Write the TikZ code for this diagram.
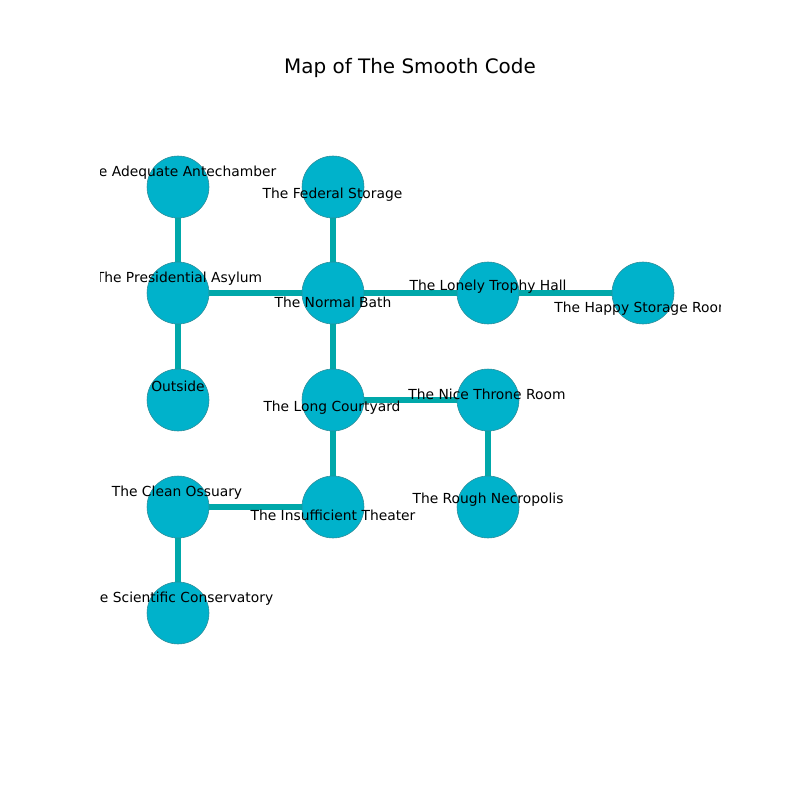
\documentclass[tikz,border=0pt]{standalone}
\usepackage{fontspec}
\setmainfont{DejaVu Sans}
\usetikzlibrary{backgrounds}
\definecolor{nodefill}{HTML}{00B2CB}
\definecolor{nodeline}{HTML}{2F8C98}
\definecolor{edgecol}{HTML}{00A8AA}
\newlength{\pxu}
\setlength{\pxu}{0.01in}
\tikzset{
  room/.style={circle, fill=nodefill, draw=nodeline, line width=0.4pt, minimum size=62\pxu, inner sep=0pt},
  passage/.style={draw=edgecol, line width=3.9pt},
  lbl/.style={font=\fontsize{10}{12}\selectfont, text=black, anchor=center, inner sep=0pt},
}
\begin{document}
\begin{tikzpicture}[x=0.01in, y=-0.01in]
\useasboundingbox (0,0) rectangle (800,800);
\node[lbl, font=\fontsize{14.4}{17}\selectfont] (title) at (410,68.5) {Map of The Smooth Code};
% nodes
\node[room] (ante) at (178,187) {};
\node[room] (fed) at (333,187) {};
\node[room] (pres) at (178,293) {};
\node[room] (bath) at (333,293) {};
\node[room] (trophy) at (488,293) {};
\node[room] (happy) at (643,293) {};
\node[room] (out) at (178,400) {};
\node[room] (court) at (333,400) {};
\node[room] (throne) at (488,400) {};
\node[room] (oss) at (178,507) {};
\node[room] (theat) at (333,507) {};
\node[room] (necro) at (488,507) {};
\node[room] (cons) at (178,613) {};
% edges behind nodes
\begin{pgfonlayer}{background}
\fill[white] (0,0) rectangle (800,800);
\draw[passage] (ante) -- (pres);
\draw[passage] (pres) -- (bath);
\draw[passage] (fed) -- (bath);
\draw[passage] (bath) -- (trophy);
\draw[passage] (trophy) -- (happy);
\draw[passage] (bath) -- (court);
\draw[passage] (pres) -- (out);
\draw[passage] (court) -- (throne);
\draw[passage] (throne) -- (necro);
\draw[passage] (court) -- (theat);
\draw[passage] (oss) -- (theat);
\draw[passage] (oss) -- (cons);
\end{pgfonlayer}
% labels clipped to axes
\begin{scope}
\clip (100,96) rectangle (720,712);
\node[lbl] (l1) at (179,173) {The Adequate Antechamber};
\node[lbl] (l2) at (332.5,195) {The Federal Storage};
\node[lbl] (l3) at (179,279) {The Presidential Asylum};
\node[lbl] (l4) at (333,302) {The Normal Bath};
\node[lbl] (l5) at (488,287) {The Lonely Trophy Hall};
\node[lbl] (l6) at (643,309) {The Happy Storage Room};
\node[lbl] (l7) at (178,386) {Outside};
\node[lbl] (l8) at (332,408) {The Long Courtyard};
\node[lbl] (l9) at (487,394) {The Nice Throne Room};
\node[lbl] (l10) at (488,500) {The Rough Necropolis};
\node[lbl] (l11) at (177,493) {The Clean Ossuary};
\node[lbl] (l12) at (333,515) {The Insufficient Theater};
\node[lbl] (l13) at (178,599) {The Scientific Conservatory};
\end{scope}
\end{tikzpicture}
\end{document}
